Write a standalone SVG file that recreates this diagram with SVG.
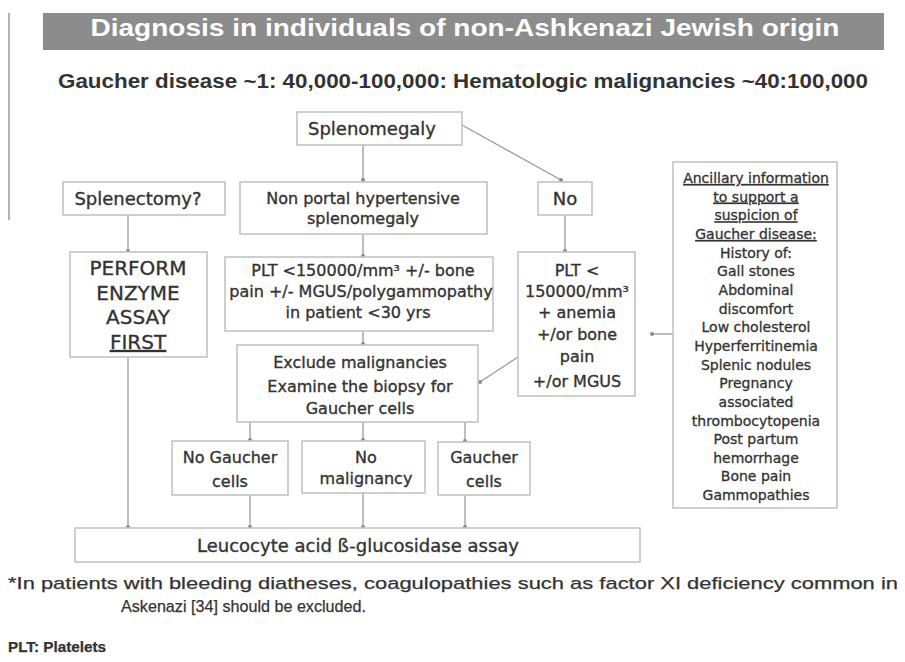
<svg xmlns="http://www.w3.org/2000/svg" width="905" height="662" viewBox="0 0 905 662">
<defs>
<marker id="dot" viewBox="0 0 6 6" refX="3" refY="3" markerWidth="6" markerHeight="6" markerUnits="userSpaceOnUse"><circle cx="3" cy="3" r="2" fill="#8a8a8a"/></marker>
<style>
.box{fill:#fff;stroke:#c4c4c4;stroke-width:1.6}
.t{font-family:"DejaVu Sans","Liberation Sans",sans-serif;fill:#333;stroke:#333;stroke-width:0.35;text-anchor:middle}
.c{stroke:#9a9a9a;stroke-width:1.3;fill:none;marker-end:url(#dot)}
.a{font-size:14px;stroke-width:0.3}
.u{text-decoration:underline}
.f{font-family:"Liberation Sans",Arial,sans-serif;fill:#333;stroke:#333;stroke-width:0.25}
</style>
</defs>
<rect width="905" height="662" fill="#fff"/>
<line x1="9" y1="13" x2="9" y2="220" stroke="#999" stroke-width="1.5"/>
<g id="header">
<rect x="43" y="13" width="841" height="37" fill="#8c8c8c"/>
<text x="465" y="36" font-family="Liberation Sans, Arial, sans-serif" font-weight="bold" font-size="24" fill="#fff" text-anchor="middle" textLength="749" lengthAdjust="spacingAndGlyphs">Diagnosis in individuals of non-Ashkenazi Jewish origin</text>
<text x="463" y="88" font-family="Liberation Sans, Arial, sans-serif" font-weight="bold" font-size="20" fill="#333" text-anchor="middle" textLength="810" lengthAdjust="spacingAndGlyphs">Gaucher disease ~1: 40,000-100,000: Hematologic malignancies ~40:100,000</text>
</g>
<g id="connectors">
<line class="c" x1="363" y1="145" x2="363" y2="180"/>
<line class="c" x1="462" y1="125" x2="561" y2="180"/>
<line class="c" x1="128" y1="215" x2="128" y2="251"/>
<line class="c" x1="363" y1="234" x2="363" y2="256"/>
<line class="c" x1="565" y1="215" x2="565" y2="251"/>
<line class="c" x1="363" y1="331" x2="363" y2="344"/>
<line class="c" x1="518" y1="357" x2="480" y2="382"/>
<line class="c" x1="673" y1="334" x2="652" y2="334"/>
<line class="c" x1="250" y1="422" x2="250" y2="440"/>
<line class="c" x1="363" y1="422" x2="363" y2="440"/>
<line class="c" x1="465" y1="422" x2="465" y2="441"/>
<line class="c" x1="250" y1="495" x2="250" y2="527"/>
<line class="c" x1="363" y1="493" x2="363" y2="527"/>
<line class="c" x1="465" y1="495" x2="465" y2="527"/>
<line class="c" x1="128" y1="357" x2="128" y2="527"/>
</g>
<g id="splenomegaly"><rect class="box" x="297" y="112" width="165" height="33"/><text class="t" x="372" y="135" font-size="18">Splenomegaly</text></g>
<g id="splenectomy"><rect class="box" x="63" y="182" width="162" height="33"/><text class="t" x="138" y="205" font-size="18">Splenectomy?</text></g>
<g id="nonportal"><rect class="box" x="240" y="182" width="247" height="52"/><text class="t" x="363" y="204" font-size="16">Non portal hypertensive</text><text class="t" x="363" y="224" font-size="16">splenomegaly</text></g>
<g id="no"><rect class="box" x="538" y="182" width="54" height="33"/><text class="t" x="565" y="205" font-size="18">No</text></g>
<g id="perform"><rect class="box" x="70" y="252" width="137" height="105"/>
<text class="t" x="138" y="275" font-size="20">PERFORM</text>
<text class="t" x="138" y="300" font-size="20">ENZYME</text>
<text class="t" x="138" y="324" font-size="20">ASSAY</text>
<text class="t u" x="138" y="349" font-size="20">FIRST</text></g>
<g id="plt"><rect class="box" x="225" y="257" width="268" height="74"/>
<text class="t" x="363" y="276" font-size="16">PLT &lt;150000/mm³ +/- bone</text>
<text class="t" x="361" y="297" font-size="16">pain +/- MGUS/polygammopathy</text>
<text class="t" x="358" y="318" font-size="16">in patient &lt;30 yrs</text></g>
<g id="pltright"><rect class="box" x="518" y="252" width="117" height="144"/>
<text class="t" x="577" y="276" font-size="16">PLT &lt;</text>
<text class="t" x="577" y="297" font-size="16">150000/mm³</text>
<text class="t" x="577" y="318" font-size="16">+ anemia</text>
<text class="t" x="577" y="340" font-size="16">+/or bone</text>
<text class="t" x="577" y="362" font-size="16">pain</text>
<text class="t" x="577" y="387" font-size="16">+/or MGUS</text></g>
<g id="exclude"><rect class="box" x="237" y="345" width="241" height="77"/>
<text class="t" x="360" y="368" font-size="16">Exclude malignancies</text>
<text class="t" x="360" y="392" font-size="16">Examine the biopsy for</text>
<text class="t" x="360" y="414" font-size="16">Gaucher cells</text></g>
<g id="nogaucher"><rect class="box" x="172" y="441" width="116" height="54"/><text class="t" x="230" y="463" font-size="16">No Gaucher</text><text class="t" x="230" y="487" font-size="16">cells</text></g>
<g id="nomalignancy"><rect class="box" x="302" y="441" width="123" height="52"/><text class="t" x="366" y="463" font-size="16">No</text><text class="t" x="366" y="484" font-size="16">malignancy</text></g>
<g id="gauchercells"><rect class="box" x="438" y="442" width="92" height="53"/><text class="t" x="484" y="463" font-size="16">Gaucher</text><text class="t" x="484" y="487" font-size="16">cells</text></g>
<g id="leucocyte"><rect class="box" x="75" y="528" width="565" height="34"/><text class="t" x="358" y="552" font-size="18">Leucocyte acid ß-glucosidase assay</text></g>
<g id="ancillary"><rect class="box" x="673" y="162" width="164" height="346"/>
<text class="t a u" x="756" y="183">Ancillary information</text>
<text class="t a u" x="756" y="201.6">to support a</text>
<text class="t a u" x="756" y="220.3">suspicion of</text>
<text class="t a u" x="756" y="239">Gaucher disease:</text>
<text class="t a" x="756" y="257.6">History of:</text>
<text class="t a" x="756" y="276.3">Gall stones</text>
<text class="t a" x="756" y="295">Abdominal</text>
<text class="t a" x="756" y="313.6">discomfort</text>
<text class="t a" x="756" y="332.2">Low cholesterol</text>
<text class="t a" x="756" y="350.9">Hyperferritinemia</text>
<text class="t a" x="756" y="369.5">Splenic nodules</text>
<text class="t a" x="756" y="388.2">Pregnancy</text>
<text class="t a" x="756" y="406.8">associated</text>
<text class="t a" x="756" y="425.5">thrombocytopenia</text>
<text class="t a" x="756" y="444.1">Post partum</text>
<text class="t a" x="756" y="462.8">hemorrhage</text>
<text class="t a" x="756" y="481.4">Bone pain</text>
<text class="t a" x="756" y="500">Gammopathies</text></g>
<g id="footnotes">
<text class="f" x="8" y="589" font-size="17" textLength="890" lengthAdjust="spacingAndGlyphs">*In patients with bleeding diatheses, coagulopathies such as factor XI deficiency common in</text>
<text class="f" x="121" y="612" font-size="17" textLength="245" lengthAdjust="spacingAndGlyphs">Askenazi [34] should be excluded.</text>
<text class="f" x="8" y="652" font-size="14" font-weight="bold" textLength="98" lengthAdjust="spacingAndGlyphs">PLT: Platelets</text>
</g>
</svg>
